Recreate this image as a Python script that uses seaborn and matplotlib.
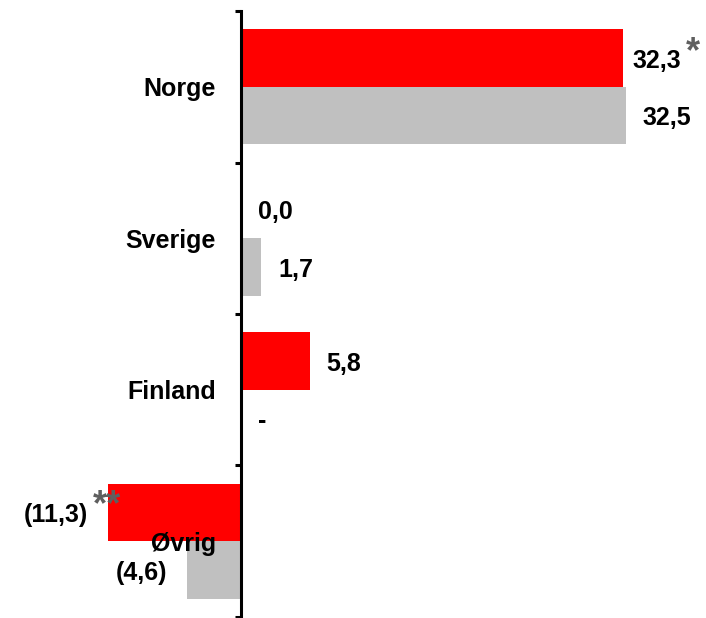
import numpy as np
import pandas as pd
import matplotlib
matplotlib.use("Agg")
import matplotlib.pyplot as plt
import seaborn as sns

# Data
regions = ["Norge", "Sverige", "Finland", "Øvrig"]
series_a = [32.3, 0.0, 5.8, -11.3]      # red
series_b = [32.5, 1.7, np.nan, -4.6]    # grey
series_names = ["a", "b"]
footnotes_a = ["*", "", "", "**"]
footnotes_b = ["", "", "", ""]

RED = "#FF0000"
GREY = "#C0C0C0"
STAR = "#5F5F5F"

df = pd.DataFrame({
    "region": regions * 2,
    "value": series_a + series_b,
    "series": [series_names[0]] * 4 + [series_names[1]] * 4,
    "note": footnotes_a + footnotes_b,
})


def fmt(v):
    if np.isnan(v):
        return "-"
    s = f"{abs(v):.1f}".replace(".", ",")
    return f"({s})" if v < 0 else s


sns.set_style("white")
plt.rcParams["font.family"] = ["Liberation Sans", "DejaVu Sans"]
plt.rcParams["font.weight"] = "bold"
plt.rcParams["axes.axisbelow"] = False

fig = plt.figure(figsize=(7.06, 6.18), dpi=100)
ax = fig.add_axes([0, 0.002, 1, 0.980])

sns.barplot(data=df, y="region", x="value", hue="series", order=regions,
            hue_order=series_names, palette=[RED, GREY], saturation=1, orient="h",
            width=0.76, errorbar=None, linewidth=0, legend=False, ax=ax)

ax.set_axisbelow(False)
ax.set_xlim(-20.42, 39.3)
ax.set_ylim(len(regions) - 0.5, -0.5)

# axis line at zero with boundary ticks
for s in ["top", "right", "bottom"]:
    ax.spines[s].set_visible(False)
ax.spines["left"].set_position(("data", 0))
ax.spines["left"].set_linewidth(2.2)
ax.spines["left"].set_color("black")
ax.set_xticks([])
ax.set_xlabel("")
ax.set_ylabel("")
ax.set_yticks(range(len(regions)))
ax.set_yticklabels(regions, fontsize=18, fontweight="bold", color="black")
ax.set_yticks(np.arange(-0.5, len(regions), 1), minor=True)
ax.tick_params(axis="y", which="major", left=True, length=0, pad=18.5, labelcolor="black")
ax.tick_params(axis="y", which="minor", left=True, length=4.5, width=2.2,
               direction="out", color="black")

# value labels
bar_h = 0.38
for j, (vals, notes) in enumerate([(series_a, footnotes_a), (series_b, footnotes_b)]):
    for i, (v, note) in enumerate(zip(vals, notes)):
        y = i + (j - 0.5) * bar_h
        x = 0 if np.isnan(v) else v
        if x < 0:
            dx, ha = -14, "right"
        else:
            dx, ha = (7 if note else 12), "left"
        t = ax.annotate(fmt(v), xy=(x, y), xytext=(dx, -2), textcoords="offset points",
                        ha=ha, va="center", fontsize=18, fontweight="bold", color="black")
        if note:
            ax.annotate(note, xy=(1, 1), xycoords=t, xytext=(3, 10 if x > 0 else 11),
                        textcoords="offset points", ha="left", va="top",
                        fontsize=26, fontweight="bold", color=STAR)

fig.savefig("out.png", dpi=100)
